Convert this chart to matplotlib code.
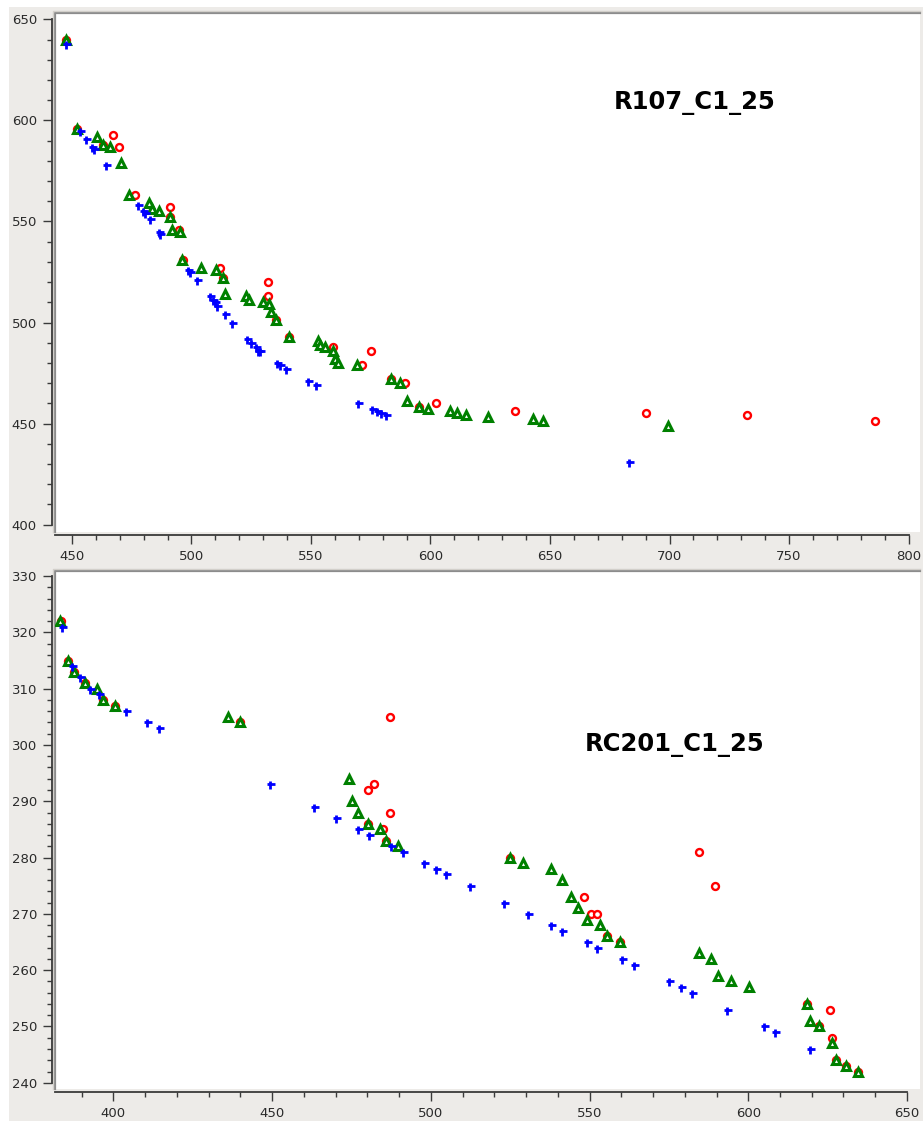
import numpy as np
import matplotlib
matplotlib.use('Agg')
import matplotlib.pyplot as plt
from matplotlib.path import Path
from matplotlib.lines import Line2D
from matplotlib.patches import Rectangle
from matplotlib.ticker import MultipleLocator

# R107_C1_25 (top panel)
r107_red_x = [447.5, 452.1, 463.0, 467.2, 469.5, 476.2, 491.1, 491.0, 494.8, 496.3,
              512.0, 513.2, 532.1, 532.1, 535.3, 540.9, 559.2, 571.3, 575.1, 583.3,
              589.2, 595.2, 602.2, 635.2, 690.0, 732.3, 786.1]
r107_red_y = [640, 596, 588, 593, 587, 563, 557, 552, 546, 531,
              527, 522, 520, 513, 501, 493, 488, 479, 486, 472,
              470, 458, 460, 456, 455, 454, 451]

r107_green_x = [447.4, 452.1, 460.3, 463.0, 466.0, 470.4, 474.0, 482.3, 483.4, 486.3,
                491.1, 491.9, 495.3, 496.2, 504.0, 510.3, 513.2, 514.1, 522.9, 524.1,
                529.8, 532.4, 533.1, 535.3, 540.9, 552.8, 553.8, 555.9, 559.3, 560.0,
                561.2, 569.3, 583.3, 587.2, 590.2, 595.3, 599.1, 608.3, 611.1, 615.0,
                624.2, 642.9, 647.1, 699.2]
r107_green_y = [640, 596, 592, 588, 587, 579, 563, 559, 556, 555,
                552, 546, 545, 531, 527, 526, 522, 514, 513, 511,
                510, 509, 505, 501, 493, 491, 489, 488, 486, 482,
                480, 479, 472, 470, 461, 458, 457, 456, 455, 454,
                453, 452, 451, 449]

r107_blue_x = [447.4, 453.4, 455.7, 458.4, 459.2, 464.2, 477.5, 479.8, 480.5, 482.6,
               486.3, 486.8, 498.4, 499.4, 502.4, 507.7, 508.8, 509.9, 510.8, 514.0,
               516.9, 523.1, 525.0, 527.0, 527.9, 528.7, 535.9, 537.0, 539.5, 548.7,
               552.1, 569.8, 575.6, 577.5, 579.2, 581.3, 683.2]
r107_blue_y = [638, 595, 591, 587, 586, 578, 558, 555, 554, 551,
               545, 544, 526, 525, 521, 513, 511, 510, 508, 504,
               500, 492, 490, 488, 486, 486, 480, 479, 477, 471,
               469, 460, 457, 456, 455, 454, 431]

# RC201_C1_25 (bottom panel)
rc201_red_x = [383.4, 385.7, 387.6, 390.9, 396.7, 400.6, 440.0, 487.0, 482.1, 480.2,
               487.0, 484.9, 480.2, 485.9, 525.0, 548.3, 550.5, 552.2, 555.5, 559.5,
               584.4, 589.5, 618.4, 625.6, 622.4, 626.4, 627.5, 630.8, 634.7]
rc201_red_y = [322, 315, 313, 311, 308, 307, 304, 305, 293, 292,
               288, 285, 286, 283, 280, 273, 270, 270, 266, 265,
               281, 275, 254, 253, 250, 248, 244, 243, 242]

rc201_green_x = [383.3, 385.7, 387.5, 390.9, 394.8, 396.7, 400.5, 436.0, 439.9, 474.1,
                 475.1, 476.9, 480.2, 484.1, 485.9, 489.8, 525.0, 529.0, 537.9, 541.2,
                 544.3, 546.4, 549.3, 553.3, 555.4, 559.5, 584.4, 588.3, 590.6, 594.6,
                 600.3, 618.4, 619.5, 622.4, 626.3, 627.5, 630.8, 634.7]
rc201_green_y = [322, 315, 313, 311, 310, 308, 307, 305, 304, 294,
                 290, 288, 286, 285, 283, 282, 280, 279, 278, 276,
                 273, 271, 269, 268, 266, 265, 263, 262, 259, 258,
                 257, 254, 251, 250, 247, 244, 243, 242]

rc201_blue_x = [383.8, 386.8, 389.5, 392.7, 395.4, 403.9, 410.7, 414.5, 449.2, 463.2,
                470.1, 477.0, 480.6, 487.4, 491.2, 498.0, 501.6, 504.9, 512.2, 522.9,
                530.6, 537.8, 541.4, 549.1, 552.5, 560.3, 563.9, 575.0, 578.7, 582.4,
                593.4, 604.8, 608.4, 619.6]
rc201_blue_y = [321, 314, 312, 310, 309, 306, 304, 303, 293, 289,
                287, 285, 284, 282, 281, 279, 278, 277, 275, 272,
                270, 268, 267, 265, 264, 262, 261, 258, 257, 256,
                253, 250, 249, 246]

bg = '#edebe8'
blue_mark = Path([(-0.5, 0), (1, 0), (0, 0.5), (0, -1)],
                 [Path.MOVETO, Path.LINETO, Path.MOVETO, Path.LINETO])

W, H = 923, 1121
fig = plt.figure(figsize=(W / 100, H / 100), dpi=100, facecolor='white')
# grey window background, white strip left and top as in the screenshot
fig.patches.append(Rectangle((9 / W, 0), 1 - 9 / W, 1 - 7 / H, transform=fig.transFigure,
                             facecolor=bg, edgecolor='none', zorder=-10))
ax1 = fig.add_axes([55 / W, 1 - 532 / H, 865 / W, 519 / H])
ax2 = fig.add_axes([55 / W, 1 - 1089 / H, 865 / W, 518.3 / H])


def style(ax, xlim, ylim, xmax_tick, ymin_tick, ymax_tick, xmaj, ymaj, ymin_step):
    ax.set_facecolor('white')
    ax.set_xlim(*xlim)
    ax.set_ylim(*ylim)
    for s in ['top', 'right']:
        ax.spines[s].set_visible(False)
    ax.spines['left'].set_position(('outward', 2.5))
    ax.spines['bottom'].set_position(('outward', 2.5))
    ax.spines['left'].set_bounds(ymin_tick, ymax_tick)
    ax.spines['bottom'].set_bounds(xlim[0], xmax_tick)
    for s in ['left', 'bottom']:
        ax.spines[s].set_color('#3a3a3a')
        ax.spines[s].set_linewidth(1.3)
    ax.xaxis.set_major_locator(MultipleLocator(xmaj))
    ax.xaxis.set_minor_locator(MultipleLocator(10))
    ax.yaxis.set_major_locator(MultipleLocator(ymaj))
    ax.yaxis.set_minor_locator(MultipleLocator(ymin_step))
    ax.tick_params(which='major', length=6.5, width=1, color='#3a3a3a',
                   labelsize=9.5, labelcolor='#2a2a2a', pad=4)
    ax.tick_params(which='minor', length=3.5, width=1, color='#3a3a3a')
    # sunken frame round the plot area
    ax.add_line(Line2D([0, 0, 1], [0, 1, 1], transform=ax.transAxes,
                       color='#8c8c8c', lw=1.6, clip_on=False))
    ax.add_line(Line2D([-0.002, -0.002, 1], [0, 1.004, 1.004], transform=ax.transAxes,
                       color='#d2cfca', lw=1.0, clip_on=False))


style(ax1, (442.9, 804.8), (396.3, 653.2), 800, 400, 650, 50, 50, 10)
style(ax2, (381.6, 654.1), (238.9, 330.95), 650, 240, 330, 50, 10, 2)

for ax, rx, ry, gx, gy, bx, by in [
        (ax1, r107_red_x, r107_red_y, r107_green_x, r107_green_y, r107_blue_x, r107_blue_y),
        (ax2, rc201_red_x, rc201_red_y, rc201_green_x, rc201_green_y, rc201_blue_x, rc201_blue_y)]:
    ax.plot(rx, ry, 'o', ms=5.0, mfc='white', mec='#ff0000', mew=1.7, zorder=3)
    ax.plot(gx, gy, '^', ms=5.4, mfc='white', mec='#008000', mew=2.2, zorder=4)
    ax.plot(bx, by, ls='none', marker=blue_mark, ms=7.5, mec='#0000ff', mew=2.0, zorder=5)

ax1.text(0.739, 0.827, 'R107_C1_25', transform=ax1.transAxes, fontsize=17.5,
         fontweight='bold', ha='center', va='center', color='black')
ax2.text(0.716, 0.664, 'RC201_C1_25', transform=ax2.transAxes, fontsize=17.5,
         fontweight='bold', ha='center', va='center', color='black')

fig.savefig('out.png', dpi=100, facecolor='white')
